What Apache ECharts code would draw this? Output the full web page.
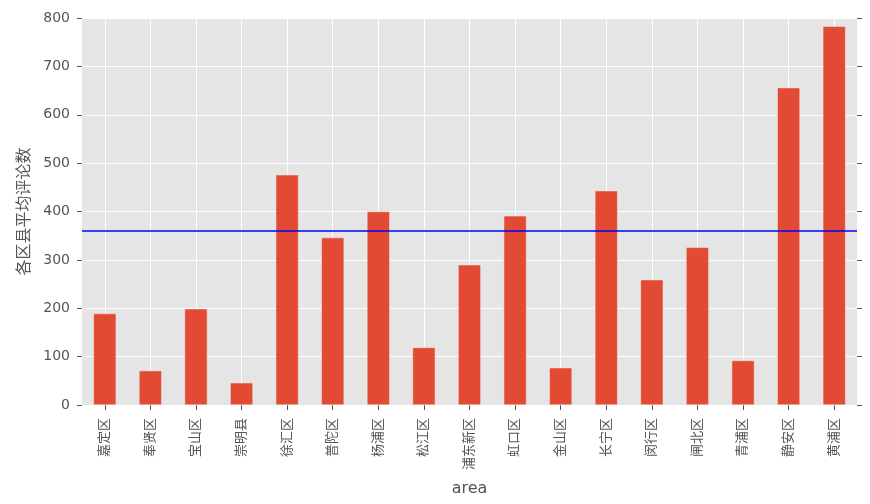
<!DOCTYPE html>
<html><head><meta charset="utf-8">
<script src="https://cdn.jsdelivr.net/npm/echarts@6/dist/echarts.min.js"></script>
<style>html,body{margin:0;padding:0;background:#fff}#c{width:870px;height:504px}</style>
</head><body><div id="c"></div>
<script>
const categories = ['嘉定区','奉贤区','宝山区','崇明县','徐汇区','普陀区','杨浦区','松江区','浦东新区','虹口区','金山区','长宁区','闵行区','闸北区','青浦区','静安区','黄浦区'];
const values = [189, 71, 199, 46, 476, 346, 400, 119, 290, 391, 77, 443, 259, 326, 92, 656, 783];
const meanValue = 360;
const yTicks = {min: 0, max: 800, interval: 100};
const xName = 'area';
const yName = '各区县平均评论数';

const font = '"DejaVu Sans", "Noto Sans CJK SC", sans-serif';
const chart = echarts.init(document.getElementById('c'), null, {renderer: 'canvas'});
const tick = {show: true, inside: false, length: 5, lineStyle: {color: '#555', width: 1}};
chart.setOption({
  animation: false,
  backgroundColor: '#fff',
  grid: {left: 82, right: 13, top: 18, bottom: 99, show: true, backgroundColor: '#E5E5E5', borderWidth: 0,
         containLabel: false, outerBoundsMode: 'none'},
  xAxis: [{
    type: 'category', data: categories, position: 'bottom',
    name: xName, nameLocation: 'middle', nameGap: 76,
    nameTextStyle: {fontFamily: font, fontSize: 16, color: '#555'},
    axisLine: {show: false},
    axisTick: Object.assign({alignWithLabel: true}, tick),
    axisLabel: {rotate: 90, fontFamily: font, fontSize: 13, color: '#555', margin: 13},
    splitLine: {show: false}
  }, {
    type: 'category', data: categories, position: 'top',
    axisLine: {show: false},
    axisTick: Object.assign({alignWithLabel: true}, tick),
    axisLabel: {show: false}, splitLine: {show: false}
  }],
  yAxis: [{
    type: 'value', min: yTicks.min, max: yTicks.max, interval: yTicks.interval,
    name: yName, nameLocation: 'middle', nameGap: 36,
    nameTextStyle: {fontFamily: font, fontSize: 16, color: '#555'},
    axisLine: {show: false}, axisTick: tick,
    axisLabel: {fontFamily: font, fontSize: 14, color: '#555', margin: 12},
    splitLine: {show: true, lineStyle: {color: '#fff', width: 1}}
  }, {
    type: 'value', min: yTicks.min, max: yTicks.max, interval: yTicks.interval, position: 'right',
    axisLine: {show: false}, axisTick: tick, axisLabel: {show: false}, splitLine: {show: false}
  }],
  series: [{
    type: 'line', data: [], z: 1, silent: true,
    markLine: {
      z: 1, silent: true, symbol: 'none', label: {show: false}, animation: false,
      lineStyle: {color: '#fff', width: 1, type: 'solid'},
      emphasis: {disabled: true},
      data: categories.map(c => ({xAxis: c}))
    }
  }, {
    type: 'bar', data: values, barWidth: '50%', z: 2,
    itemStyle: {color: '#E24A33', borderColor: '#EEEEEE', borderWidth: 0.5},
    markLine: {
      z: 5, silent: true, symbol: 'none', label: {show: false},
      lineStyle: {color: '#0000FF', width: 1.5, type: 'solid', opacity: 1},
      data: [{yAxis: meanValue}]
    }
  }]
});
</script></body></html>
